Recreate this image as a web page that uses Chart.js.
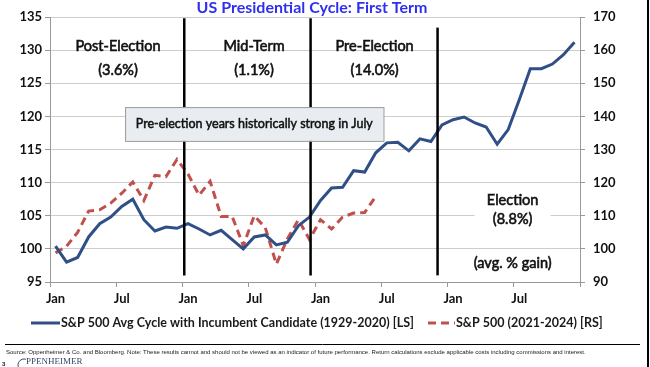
<!DOCTYPE html>
<html>
<head>
<meta charset="utf-8">
<script src="https://cdn.jsdelivr.net/npm/chart.js@4.4.1/dist/chart.umd.min.js"></script>
<style>
  html, body { margin: 0; padding: 0; background: #fff; }
  #wrap { position: relative; width: 650px; height: 367px; }
</style>
</head>
<body>
<div id="wrap"><canvas id="c" width="650" height="367"></canvas></div>
<script>
// Data (monthly, Jan year 1 .. Dec year 4)
var MONTHS = ["Jan", "Feb", "Mar", "Apr", "May", "Jun", "Jul", "Aug", "Sep", "Oct", "Nov", "Dec"];
var categories = [].concat(MONTHS, MONTHS, MONTHS, MONTHS);

// left scale
var incumbentCycle = [
  100.4, 98.0, 98.7, 101.8, 103.8, 104.8, 106.4, 107.5, 104.4, 102.7, 103.3, 103.1,
  103.8, 103.0, 102.1, 102.8, 101.4, 100.0, 101.8, 102.1, 100.6, 101.0, 103.5, 104.8,
  107.3, 109.2, 109.3, 111.8, 111.6, 114.5, 116.0, 116.1, 114.8, 116.6, 116.2, 118.7,
  119.5, 119.9, 119.0, 118.4, 115.8, 118.0, 122.5, 127.2, 127.2, 127.9, 129.3, 131.2
];
// right scale
var sp2021 = [
  98.8, 100.8, 105.0, 111.4, 111.8, 113.8, 116.8, 120.2, 114.6, 122.2, 121.8, 127.0,
  122.6, 116.2, 120.4, 109.8, 109.8, 101.0, 110.0, 106.4, 95.4, 103.0, 108.8, 102.8,
  108.8, 106.0, 109.6, 110.8, 111.0, 115.8
];

var leftTicks = [95, 100, 105, 110, 115, 120, 125, 130, 135];
var rightTicks = [90, 100, 110, 120, 130, 140, 150, 160, 170];

var seriesNames = [
  "S&P 500 Avg Cycle with Incumbent Candidate (1929-2020) [LS]",
  "S&P 500 (2021-2024) [RS]"
];
var phaseNames = ["Post-Election", "Mid-Term", "Pre-Election", "Election"];
var phaseGains = ["(3.6%)", "(1.1%)", "(14.0%)", "(8.8%)"];

var BLUE = "#2f4f86";
var RED = "#c0504d";
var FONT = "Lato, 'Open Sans', sans-serif";

// slightly heavier text than the regular face
function heavyText(ctx, s, px, py) {
  ctx.fillText(s, px, py);
  ctx.strokeText(s, px, py);
}

// ---------- Annotations ----------
var overlay = {
  id: "overlay",
  afterDatasetsDraw: function (chart) {
    var ctx = chart.ctx, x = chart.scales.x, y = chart.scales.y;
    ctx.save();

    // year dividers
    ctx.strokeStyle = "#000";
    ctx.lineWidth = 2.5;
    [[11.66, 134.8], [23.1, 134.8], [34.6, 133.4]].forEach(function (d) {
      var px = x.getPixelForValue(d[0]);
      ctx.beginPath();
      ctx.moveTo(px, y.getPixelForValue(d[1]));
      ctx.lineTo(px, y.getPixelForValue(96));
      ctx.stroke();
    });

    // phase labels
    ctx.fillStyle = "#111";
    ctx.strokeStyle = "#111";
    ctx.lineWidth = 0.6;
    ctx.textAlign = "center";
    ctx.textBaseline = "middle";
    ctx.font = "14.5px " + FONT;
    [5.66, 17.98, 28.9].forEach(function (cx, i) {
      var px = x.getPixelForValue(cx);
      heavyText(ctx, phaseNames[i], px, y.getPixelForValue(130.6));
      heavyText(ctx, phaseGains[i], px, y.getPixelForValue(127.0));
    });

    // election block with white backing
    var ex = x.getPixelForValue(41.4);
    ctx.fillStyle = "#fff";
    ctx.fillRect(ex - 38, y.getPixelForValue(108.9), 76, 38);
    ctx.fillStyle = "#111";
    heavyText(ctx, phaseNames[3], ex, y.getPixelForValue(107.3));
    heavyText(ctx, phaseGains[3], ex, y.getPixelForValue(104.4));
    heavyText(ctx, "(avg. % gain)", ex, y.getPixelForValue(97.8));

    // note box
    var bx0 = x.getPixelForValue(6.3), bx1 = x.getPixelForValue(29.7);
    var by0 = y.getPixelForValue(121.4), by1 = y.getPixelForValue(116.3);
    ctx.fillStyle = "#e9edf2";
    ctx.fillRect(bx0, by0, bx1 - bx0, by1 - by0);
    ctx.strokeStyle = "#9a9a9a";
    ctx.lineWidth = 1;
    ctx.strokeRect(bx0 + 0.5, by0 + 0.5, bx1 - bx0, by1 - by0);
    ctx.fillStyle = "#111";
    ctx.strokeStyle = "#111";
    ctx.lineWidth = 0.5;
    ctx.font = "12.5px " + FONT;
    heavyText(ctx, "Pre-election years historically strong in July", (bx0 + bx1) / 2, (by0 + by1) / 2);
    ctx.restore();
  },
  afterDraw: function (chart) {
    var ctx = chart.ctx;
    ctx.save();

    // title
    ctx.fillStyle = "#2f2ff0";
    ctx.font = "bold 16px " + FONT;
    ctx.textAlign = "center";
    ctx.textBaseline = "middle";
    ctx.fillText("US Presidential Cycle: First Term", 312, 8);

    // legend
    var ds = chart.data.datasets;
    ctx.textAlign = "left";
    ctx.font = "bold 12.5px " + FONT;
    ctx.fillStyle = "#1a1a1a";
    var items = [[31, 60], [428, 455]];
    ds.forEach(function (d, i) {
      ctx.strokeStyle = d.borderColor;
      ctx.lineWidth = 3;
      ctx.setLineDash(d.borderDash || []);
      ctx.beginPath();
      ctx.moveTo(items[i][0], 323);
      ctx.lineTo(items[i][1], 323);
      ctx.stroke();
      ctx.setLineDash([]);
      ctx.fillText(d.label, items[i][1] + 1, 323);
    });

    // footer
    ctx.strokeStyle = "#000";
    ctx.lineWidth = 1;
    ctx.beginPath();
    ctx.moveTo(5, 344.5);
    ctx.lineTo(640, 344.5);
    ctx.stroke();
    ctx.font = "6px 'Liberation Sans', Arial, sans-serif";
    ctx.fillText("Source: Oppenheimer & Co. and Bloomberg. Note: These results cannot and should not be viewed as an indicator of future performance. Return calculations exclude applicable costs including commissions and interest.", 6, 352, 592);
    ctx.font = "bold 6px 'Liberation Sans', Arial, sans-serif";
    ctx.fillText("3", 2, 364);
    ctx.fillStyle = "#3b4a68";
    ctx.strokeStyle = "#3b4a68";
    ctx.beginPath();
    ctx.arc(24, 365, 6, Math.PI * 0.9, Math.PI * 1.6);
    ctx.stroke();
    ctx.font = "9px 'Liberation Serif', serif";
    ctx.fillText("PPENHEIMER", 26, 362);

    // right page edge
    ctx.fillStyle = "#000";
    ctx.fillRect(647, 0, 2, 367);
    ctx.restore();
  }
};

var tickFont = { family: FONT, size: 13, weight: "bold" };

new Chart(document.getElementById("c"), {
  type: "line",
  data: {
    labels: categories,
    datasets: [
      {
        label: seriesNames[0],
        data: incumbentCycle,
        yAxisID: "y",
        borderColor: BLUE,
        borderWidth: 3,
        pointRadius: 0,
        tension: 0,
        fill: false
      },
      {
        label: seriesNames[1],
        data: sp2021,
        yAxisID: "y2",
        borderColor: RED,
        borderWidth: 3,
        borderDash: [8, 5],
        pointRadius: 0,
        tension: 0,
        fill: false
      }
    ]
  },
  options: {
    responsive: false,
    animation: false,
    layout: { padding: { top: 17, right: 0, bottom: 57, left: 0 } },
    plugins: { legend: { display: false }, title: { display: false }, tooltip: { enabled: false } },
    scales: {
      x: {
        offset: true,
        grid: {
          offset: true,
          drawOnChartArea: false,
          tickLength: 5,
          color: function (c) { return (c.index === undefined || c.index % 6 === 0) ? "#999" : "rgba(0,0,0,0)"; }
        },
        border: { color: "#999" },
        ticks: {
          autoSkip: false,
          maxRotation: 0,
          padding: 4,
          color: "#111",
          font: tickFont,
          callback: function (v, i) { return i % 6 === 0 ? categories[i] : ""; }
        },
        afterFit: function (s) { s.height = 28; }
      },
      y: {
        position: "left",
        min: leftTicks[0],
        max: leftTicks[leftTicks.length - 1],
        grid: { color: "#cdcdcd", tickLength: 5, tickColor: "#999" },
        border: { color: "#999" },
        ticks: { stepSize: leftTicks[1] - leftTicks[0], color: "#111", font: tickFont, padding: 3 },
        afterFit: function (s) { s.width = 50; }
      },
      y2: {
        position: "right",
        min: rightTicks[0],
        max: rightTicks[rightTicks.length - 1],
        grid: { drawOnChartArea: false, tickLength: 5, color: "#999" },
        border: { color: "#999" },
        ticks: { stepSize: rightTicks[1] - rightTicks[0], color: "#111", font: tickFont, padding: 8 },
        afterFit: function (s) { s.width = 70; }
      }
    }
  },
  plugins: [overlay]
});
</script>
</body>
</html>
